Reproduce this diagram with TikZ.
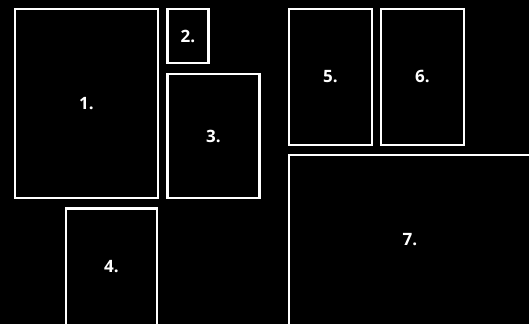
\documentclass[tikz,border=0pt]{standalone}
\usepackage{fontspec}
\setmainfont{Open Sans}
\begin{document}
\begin{tikzpicture}[x=1pt,y=-1pt,
  panel/.style={draw=white, line width=2.2pt, fill=black, text=white,
    inner sep=0pt, outer sep=0pt, font=\bfseries\fontsize{17}{19}\selectfont},
  ]
  \useasboundingbox (0,0) rectangle (529,324);
  \fill[black] (0,0) rectangle (529,324);
  \begin{scope}
    \clip (0,0) rectangle (529,324);
    \node[panel, minimum width=143pt, minimum height=189.3pt] (p1) at (86.5,103.7) {\raisebox{-1pt}{1.}};
    \node[panel, minimum width=41pt, minimum height=54pt] (p2) at (188,36) {\raisebox{-1pt}{2.}};
    \node[panel, minimum width=92pt, minimum height=124.6pt] (p3) at (213.5,136) {\raisebox{-1pt}{3.}};
    \node[panel, minimum width=91pt, minimum height=116.5pt] (p4) at (111.5,266.75) {\raisebox{-1pt}{4.}};
    \node[panel, minimum width=83pt, minimum height=135.7pt] (p5) at (330.5,76.8) {\raisebox{-1pt}{5.}};
    \node[panel, minimum width=83pt, minimum height=135.7pt] (p6) at (422.5,76.8) {\raisebox{-1pt}{6.}};
    \node[panel, minimum width=242pt, minimum height=170.3pt] (p7) at (410,239.85) {\raisebox{-1pt}{7.}};
  \end{scope}
\end{tikzpicture}
\end{document}
